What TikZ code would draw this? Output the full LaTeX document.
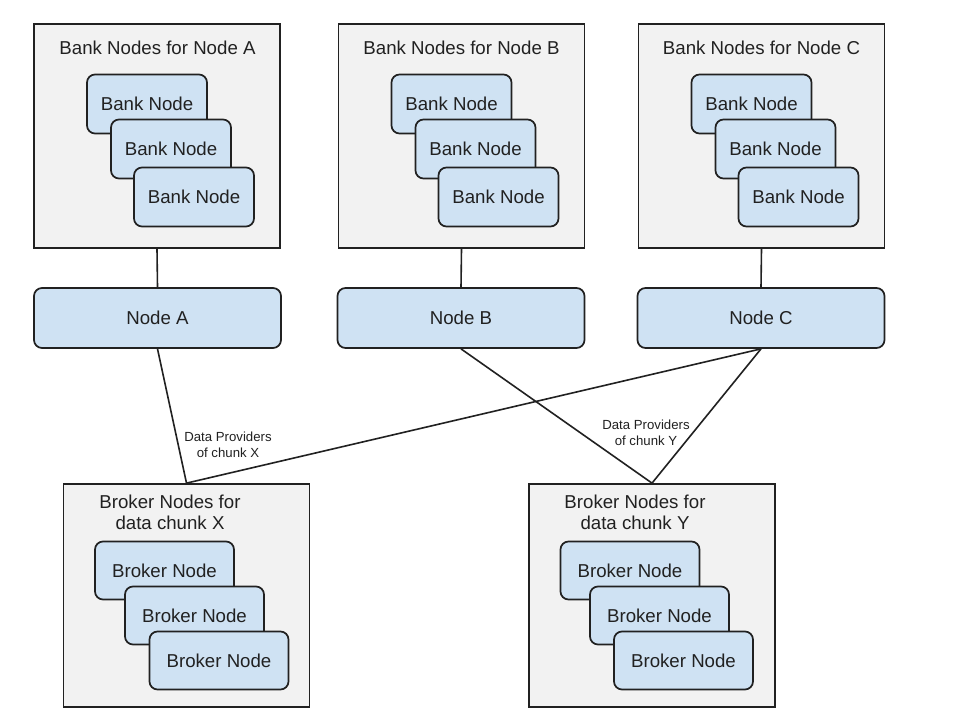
\documentclass[tikz,border=0pt]{standalone}
\usepackage{fontspec}
\setmainfont{Liberation Sans}
\begin{document}
\begin{tikzpicture}[x=0.75pt,y=-0.75pt,
  groupbox/.style={draw=black!87, fill=black!5, line width=1.3pt, minimum width=184.5pt, minimum height=168pt, inner sep=0pt},
  brokerbox/.style={groupbox, minimum height=167.25pt},
  banknode/.style={draw=black!87, fill=blue!18!cyan!8!white, fill=nodeblue, line width=1.3pt, rounded corners=6pt, minimum width=90pt, minimum height=44.25pt, inner sep=0pt, font=\fontsize{14}{16}\selectfont, text=black!87},
  brokernode/.style={banknode, minimum width=104.25pt, minimum height=43.5pt},
  mainnode/.style={banknode, minimum width=185.25pt, minimum height=45pt},
  titletext/.style={font=\fontsize{14}{16}\selectfont, text=black!87, inner sep=0pt},
  brokertitle/.style={font=\fontsize{14}{15.75}\selectfont, text=black!87, inner sep=0pt, align=center},
  smalllabel/.style={font=\fontsize{9.9}{12}\selectfont, text=black!87, inner sep=0pt, align=center},
  link/.style={draw=black!87, line width=1.2pt}
]
\definecolor{nodeblue}{HTML}{CFE2F3}
\useasboundingbox (0,0) rectangle (960,720);
\fill[white] (0,0) rectangle (960,720);

% Bank groups
\node[groupbox] (ga) at (157,136) {};
\node[groupbox] (gb) at (461.5,136) {};
\node[groupbox] (gc) at (761.5,136) {};
\node[titletext] (ta) at (157.5,48) {Bank Nodes for Node A};
\node[titletext] (tb) at (461.5,48) {Bank Nodes for Node B};
\node[titletext] (tc) at (761.5,48) {Bank Nodes for Node C};

\node[banknode] (a1) at (147,104) {Bank Node};
\node[banknode] (a2) at (171,149) {Bank Node};
\node[banknode] (a3) at (194,197) {Bank Node};
\node[banknode] (b1) at (451.5,104) {Bank Node};
\node[banknode] (b2) at (475.5,149) {Bank Node};
\node[banknode] (b3) at (498.5,197) {Bank Node};
\node[banknode] (c1) at (751.5,104) {Bank Node};
\node[banknode] (c2) at (775.5,149) {Bank Node};
\node[banknode] (c3) at (798.5,197) {Bank Node};

% Main nodes
\node[mainnode] (na) at (157.5,318) {Node A};
\node[mainnode] (nb) at (461,318) {Node B};
\node[mainnode] (nc) at (761,318) {Node C};

% Broker groups
\node[brokerbox] (gx) at (186.5,595.5) {};
\node[brokerbox] (gy) at (652,595.5) {};
\node[brokertitle] (tx) at (170,512) {Broker Nodes for\\data chunk X};
\node[brokertitle] (ty) at (635,512) {Broker Nodes for\\data chunk Y};

\node[brokernode] (x1) at (164.5,570.5) {Broker Node};
\node[brokernode] (x2) at (194.5,615.5) {Broker Node};
\node[brokernode] (x3) at (219,660.5) {Broker Node};
\node[brokernode] (y1) at (630,570.5) {Broker Node};
\node[brokernode] (y2) at (659.5,615.5) {Broker Node};
\node[brokernode] (y3) at (683.5,660.5) {Broker Node};

% Connectors
\draw[link] (ga.south) -- (na.north);
\draw[link] (gb.south) -- (nb.north);
\draw[link] (gc.south) -- (nc.north);
\draw[link] (na.south) -- (gx.north);
\draw[link] (nc.south) -- (gx.north);
\draw[link] (nb.south) -- (gy.north);
\draw[link] (nc.south) -- (gy.north);

% Labels
\node[smalllabel] (lx) at (228,445) {Data Providers\\of chunk X};
\node[smalllabel] (ly) at (646,433) {Data Providers\\of chunk Y};
\end{tikzpicture}
\end{document}
